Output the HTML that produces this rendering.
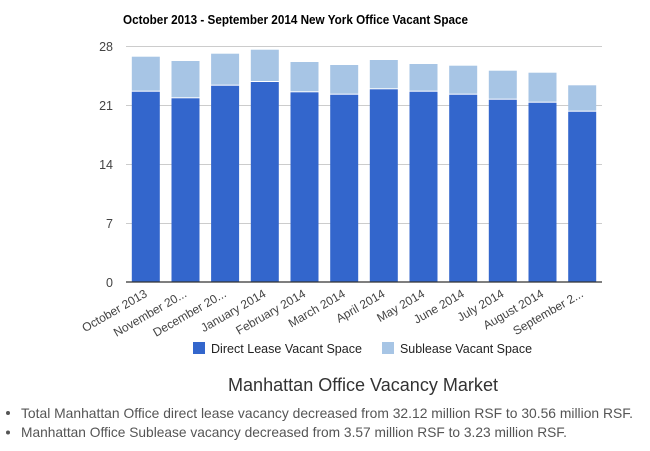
<!DOCTYPE html>
<html>
<head>
<meta charset="utf-8">
<style>
  html,body{margin:0;padding:0;background:#fff;}
  svg{display:block;}
  text{font-family:"Liberation Sans", Arial, sans-serif;}
</style>
</head>
<body>
<svg width="650" height="451" viewBox="0 0 650 451" xmlns="http://www.w3.org/2000/svg">
  <rect x="0" y="0" width="650" height="451" fill="#fff"/>
  <!-- Title -->
  <text x="123" y="24" font-size="12.5" font-weight="bold" fill="#000" textLength="345" lengthAdjust="spacingAndGlyphs">October 2013 - September 2014 New York Office Vacant Space</text>

  <!-- gridlines -->
  <g stroke="#cccccc" stroke-width="1">
    <line x1="126" y1="46.5" x2="602" y2="46.5"/>
    <line x1="126" y1="105.5" x2="602" y2="105.5"/>
    <line x1="126" y1="164.5" x2="602" y2="164.5"/>
    <line x1="126" y1="223.5" x2="602" y2="223.5"/>
  </g>

  <!-- y labels -->
  <g font-size="12.5" fill="#444" text-anchor="end">
    <text x="113" y="51">28</text>
    <text x="113" y="110">21</text>
    <text x="113" y="169">14</text>
    <text x="113" y="228">7</text>
    <text x="113" y="287">0</text>
  </g>

  <!-- bars -->
  <g>
    <!-- 1 -->
    <rect x="131.8" y="56.7" width="28" height="34" fill="#a7c5e5"/>
    <rect x="131.8" y="91.7" width="28" height="190.3" fill="#3366cc"/>
    <!-- 2 -->
    <rect x="171.5" y="61" width="28" height="36.3" fill="#a7c5e5"/>
    <rect x="171.5" y="98.3" width="28" height="183.7" fill="#3366cc"/>
    <!-- 3 -->
    <rect x="211.1" y="53.7" width="28" height="31" fill="#a7c5e5"/>
    <rect x="211.1" y="85.7" width="28" height="196.3" fill="#3366cc"/>
    <!-- 4 -->
    <rect x="250.8" y="49.7" width="28" height="31.3" fill="#a7c5e5"/>
    <rect x="250.8" y="82" width="28" height="200" fill="#3366cc"/>
    <!-- 5 -->
    <rect x="290.5" y="62" width="28" height="29.3" fill="#a7c5e5"/>
    <rect x="290.5" y="92.3" width="28" height="189.7" fill="#3366cc"/>
    <!-- 6 -->
    <rect x="330.2" y="65" width="28" height="28.7" fill="#a7c5e5"/>
    <rect x="330.2" y="94.7" width="28" height="187.3" fill="#3366cc"/>
    <!-- 7 -->
    <rect x="369.8" y="60" width="28" height="28.3" fill="#a7c5e5"/>
    <rect x="369.8" y="89.3" width="28" height="192.7" fill="#3366cc"/>
    <!-- 8 -->
    <rect x="409.5" y="64" width="28" height="26.7" fill="#a7c5e5"/>
    <rect x="409.5" y="91.7" width="28" height="190.3" fill="#3366cc"/>
    <!-- 9 -->
    <rect x="449.2" y="65.7" width="28" height="28" fill="#a7c5e5"/>
    <rect x="449.2" y="94.7" width="28" height="187.3" fill="#3366cc"/>
    <!-- 10 -->
    <rect x="488.8" y="70.7" width="28" height="28" fill="#a7c5e5"/>
    <rect x="488.8" y="99.7" width="28" height="182.3" fill="#3366cc"/>
    <!-- 11 -->
    <rect x="528.5" y="72.7" width="28" height="29" fill="#a7c5e5"/>
    <rect x="528.5" y="102.7" width="28" height="179.3" fill="#3366cc"/>
    <!-- 12 -->
    <rect x="568.2" y="85.3" width="28" height="25.4" fill="#a7c5e5"/>
    <rect x="568.2" y="111.7" width="28" height="170.3" fill="#3366cc"/>
  </g>

  <!-- baseline -->
  <line x1="126" y1="282" x2="602" y2="282" stroke="#333" stroke-width="1.3"/>

  <!-- x labels -->
  <g font-size="12" fill="#444" text-anchor="end">
    <text transform="translate(148,296) rotate(-30)">October 2013</text>
    <text transform="translate(187.5,296) rotate(-30)">November 20...</text>
    <text transform="translate(227.1,296) rotate(-30)">December 20...</text>
    <text transform="translate(266.8,296) rotate(-30)">January 2014</text>
    <text transform="translate(306.5,296) rotate(-30)">February 2014</text>
    <text transform="translate(346.2,296) rotate(-30)">March 2014</text>
    <text transform="translate(385.8,296) rotate(-30)">April 2014</text>
    <text transform="translate(425.5,296) rotate(-30)">May 2014</text>
    <text transform="translate(465.2,296) rotate(-30)">June 2014</text>
    <text transform="translate(504.8,296) rotate(-30)">July 2014</text>
    <text transform="translate(544.5,296) rotate(-30)">August 2014</text>
    <text transform="translate(584.2,296) rotate(-30)">September 2...</text>
  </g>

  <!-- legend -->
  <rect x="193" y="342" width="12" height="12" fill="#3366cc"/>
  <text x="211" y="353" font-size="13" fill="#222" textLength="151" lengthAdjust="spacingAndGlyphs">Direct Lease Vacant Space</text>
  <rect x="382" y="342" width="12" height="12" fill="#a7c5e5"/>
  <text x="400" y="353" font-size="13" fill="#222" textLength="132" lengthAdjust="spacingAndGlyphs">Sublease Vacant Space</text>

  <!-- heading -->
  <text x="228" y="391" font-size="18" fill="#333" textLength="270" lengthAdjust="spacingAndGlyphs">Manhattan Office Vacancy Market</text>

  <!-- bullets -->
  <circle cx="8" cy="413" r="2" fill="#555"/>
  <text x="21" y="418" font-size="14" fill="#555" textLength="612" lengthAdjust="spacingAndGlyphs">Total Manhattan Office direct lease vacancy decreased from 32.12 million RSF to 30.56 million RSF.</text>
  <circle cx="8" cy="432.5" r="2" fill="#555"/>
  <text x="21" y="437" font-size="14" fill="#555" textLength="546" lengthAdjust="spacingAndGlyphs">Manhattan Office Sublease vacancy decreased from 3.57 million RSF to 3.23 million RSF.</text>
</svg>
</body>
</html>
